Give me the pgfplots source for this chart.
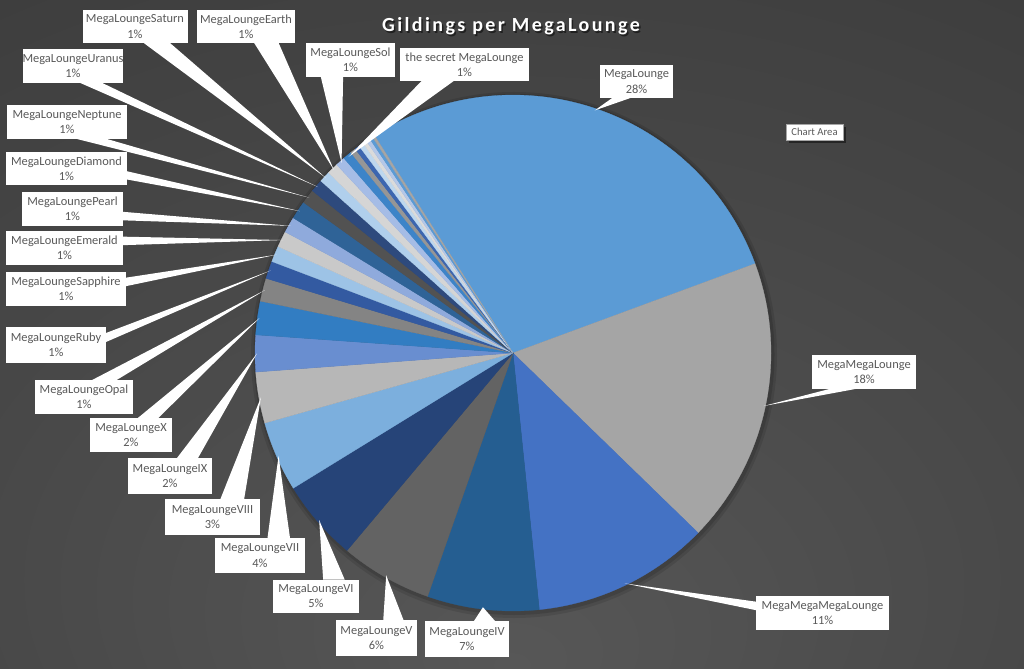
\documentclass[border=0pt]{standalone}
\usepackage{fontspec}
\setmainfont{Carlito}
\newfontfamily\titlefont[LetterSpace=12]{Carlito}
\usepackage{pgfplots}
\usepackage{pgfplotstable}
\pgfplotsset{compat=1.18}

\definecolor{pc1}{HTML}{5B9BD5}\definecolor{pc2}{HTML}{A5A5A5}\definecolor{pc3}{HTML}{4472C4}
\definecolor{pc4}{HTML}{255E91}\definecolor{pc5}{HTML}{636363}\definecolor{pc6}{HTML}{264478}
\definecolor{pc7}{HTML}{7CAFDD}\definecolor{pc8}{HTML}{B7B7B7}\definecolor{pc9}{HTML}{698ED0}
\definecolor{pc10}{HTML}{327DC2}\definecolor{pc11}{HTML}{848484}\definecolor{pc12}{HTML}{335AA1}
\definecolor{pc13}{HTML}{9DC3E6}\definecolor{pc14}{HTML}{C9C9C9}\definecolor{pc15}{HTML}{8FAADC}
\definecolor{pc16}{HTML}{2F6397}\definecolor{pc17}{HTML}{525252}\definecolor{pc18}{HTML}{2E4A7D}
\definecolor{pc19}{HTML}{B0CFEC}\definecolor{pc20}{HTML}{D5D5D5}\definecolor{pc21}{HTML}{A5BCE6}
\definecolor{pc22}{HTML}{3D84C8}\definecolor{pc23}{HTML}{969696}\definecolor{pc24}{HTML}{3C66B0}
\definecolor{pc25}{HTML}{BDD7EE}\definecolor{pc26}{HTML}{DBDBDB}\definecolor{pc27}{HTML}{B4C7E7}
\definecolor{labelgray}{HTML}{595959}
\definecolor{bgA}{HTML}{575757}\definecolor{bgB}{HTML}{464646}
\definecolor{bgC}{HTML}{363636}\definecolor{bgD}{HTML}{282828}

\pgfdeclareradialshading{bg}{\pgfpoint{0bp}{-25bp}}{%
  color(0bp)=(bgA); color(30bp)=(bgB); color(60bp)=(bgC); color(90bp)=(bgD)}

% share of gildings, in percent, clockwise from the first slice
\pgfplotstableread[col sep=comma]{
name,share,ci
MegaLounge,28.4,1
MegaMegaLounge,17.9,2
MegaMegaMegaLounge,11.1,3
MegaLoungeIV,7.0,4
MegaLoungeV,5.75,5
MegaLoungeVI,5.1,6
MegaLoungeVII,4.4,7
MegaLoungeVIII,3.2,8
MegaLoungeIX,2.3,9
MegaLoungeX,2.1,10
MegaLoungeOpal,1.45,11
MegaLoungeRuby,1.1,12
MegaLoungeSapphire,1.0,13
MegaLoungeEmerald,1.0,14
MegaLoungePearl,1.0,15
MegaLoungeDiamond,1.15,16
MegaLoungeNeptune,0.9,17
MegaLoungeUranus,0.8,18
MegaLoungeSaturn,0.7,19
MegaLoungeEarth,0.7,20
MegaLoungeSol,0.6,21
the secret MegaLounge,0.55,22
other1,0.35,23
other2,0.3,24
other3,0.3,25
other4,0.25,26
other5,0.25,27
other6,0.2,1
other7,0.15,2
}\slices
\pgfplotstablecreatecol[create col/expr accum={\pgfmathaccuma+\thisrow{share}}{0}]{cum}\slices

\def\startang{122.5}
\def\pieR{193.5pt}

% callout: row, box centre x, y, width, height (pixels)
\newcommand\callout[5]{%
  \pgfplotstablegetelem{#1}{cum}\of\slices \let\ccum\pgfplotsretval
  \pgfplotstablegetelem{#1}{share}\of\slices \let\cshare\pgfplotsretval
  \pgfplotstablegetelem{#1}{name}\of\slices \let\cname\pgfplotsretval
  \pgfmathsetmacro\cang{\startang-3.6*(\ccum-\cshare/2)}%
  \pgfmathsetmacro\ctx{513+256*cos(\cang)}%
  \pgfmathsetmacro\cty{353-256*sin(\cang)}%
  \pgfmathsetmacro\cdx{\ctx-#2}%
  \pgfmathsetmacro\cdy{\cty-#3}%
  \pgfmathsetmacro\cisv{(abs(\cdy)*#4>abs(\cdx)*#5) ? 1 : 0}%
  \ifdim\cisv pt>0.5pt
    \pgfmathsetmacro\ce{#3+((\cdy>0) ? 1 : -1)*#5/2}%
    \pgfmathsetmacro\ca{#2-#4/2+#4*((\cdx>0) ? 7 : 2)/12}%
    \pgfmathsetmacro\cb{#2-#4/2+#4*((\cdx>0) ? 10 : 5)/12}%
    \fill[white] (\ctx,\cty) -- (\ca,\ce) -- (\cb,\ce) -- cycle;
  \else
    \pgfmathsetmacro\ce{#2+((\cdx>0) ? 1 : -1)*#4/2}%
    \pgfmathsetmacro\ca{#3-#5/2+#5*((\cdy>0) ? 7 : 2)/12}%
    \pgfmathsetmacro\cb{#3-#5/2+#5*((\cdy>0) ? 10 : 5)/12}%
    \fill[white] (\ctx,\cty) -- (\ce,\ca) -- (\ce,\cb) -- cycle;
  \fi
  \pgfmathtruncatemacro\cpct{round(\cshare)}%
  \node[fill=white, inner sep=0pt, align=center, text=labelgray,
        font=\fontsize{9.3}{11.6}\selectfont,
        minimum width=#4*0.75pt, minimum height=#5*0.75pt]
    at (#2,#3) {\cname\\\cpct\%};
}

\begin{document}
\begin{tikzpicture}
\begin{scope}[x=0.75pt, y=-0.75pt, yshift=501pt]
  \shade[shading=bg] (0,0) rectangle (1024,668);
  \fill[black, opacity=0.10] (514,355) circle[radius=263];
  \fill[black, opacity=0.12] (514,354.5) circle[radius=260.5];
\end{scope}

\begin{axis}[
  at={(0,0)}, anchor=south west,
  scale only axis, width=768pt, height=501pt,
  xmin=0, xmax=1024, ymin=0, ymax=668, y dir=reverse,
  hide axis, clip=false,
]
\addplot[scatter, only marks, mark=*, mark size=0pt,
  point meta=\thisrow{share},
  visualization depends on={\thisrow{cum}\as\slicecum},
  visualization depends on={\thisrow{share}\as\sliceshare},
  visualization depends on={\thisrow{ci}\as\slicecinum},
  scatter/@pre marker code/.code={%
    \pgfmathsetmacro\angA{\startang-3.6*(\slicecum-\sliceshare)}%
    \pgfmathsetmacro\angB{\startang-3.6*\slicecum}%
    \pgfmathtruncatemacro\sci{round(\slicecinum)}%
    \fill[pc\sci, draw=pc\sci, line width=0.2pt]
      (0pt,0pt) -- (\angA:\pieR) arc[start angle=\angA, end angle=\angB, radius=\pieR] -- cycle;
  },
  scatter/@post marker code/.code={},
] table[x expr=513, y expr=353] {\slices};
\end{axis}

\begin{scope}[x=0.75pt, y=-0.75pt, yshift=501pt]
  \callout{0}{636.5}{81.5}{73}{33}
  \callout{1}{864}{372}{104}{34}
  \callout{2}{822.5}{613}{133}{34}
  \callout{3}{467}{639}{84}{36}
  \callout{4}{376.5}{638}{81}{36}
  \callout{5}{316}{596}{86}{33}
  \callout{6}{260}{555.5}{90}{35}
  \callout{7}{212.5}{517}{95}{36}
  \callout{8}{170}{476}{84}{36}
  \callout{9}{131}{435}{82}{34}
  \callout{10}{84}{397}{98}{34}
  \callout{11}{56}{345}{100}{36}
  \callout{12}{66}{289}{120}{34}
  \callout{13}{64.5}{248}{117}{34}
  \callout{14}{72.5}{209}{101}{34}
  \callout{15}{66.5}{168.5}{121}{33}
  \callout{16}{67}{122}{120}{34}
  \callout{17}{73}{66}{88}{34}
  \callout{18}{135}{26.5}{105}{33}
  \callout{19}{246}{26.5}{98}{33}
  \callout{20}{350.5}{60}{89}{34}
  \callout{21}{464.5}{64.5}{129}{33}

  % title
  \node[anchor=base, text=black, opacity=0.5, font=\titlefont\bfseries\fontsize{15}{18}\selectfont]
    at (512.5,33.5) {Gildings per MegaLounge};
  \node[anchor=base, text=white, font=\titlefont\bfseries\fontsize{15}{18}\selectfont]
    at (511,32) {Gildings per MegaLounge};

  % chart area tooltip
  \fill[black, opacity=0.45] (789,127) rectangle (846,143);
  \node[fill=white, draw=black!35, line width=0.4pt, inner sep=0pt,
        minimum width=57*0.75pt, minimum height=16*0.75pt,
        text=labelgray, font=\fontsize{8}{9}\selectfont]
    at (814.5,132) {Chart Area};
\end{scope}
\end{tikzpicture}
\end{document}
